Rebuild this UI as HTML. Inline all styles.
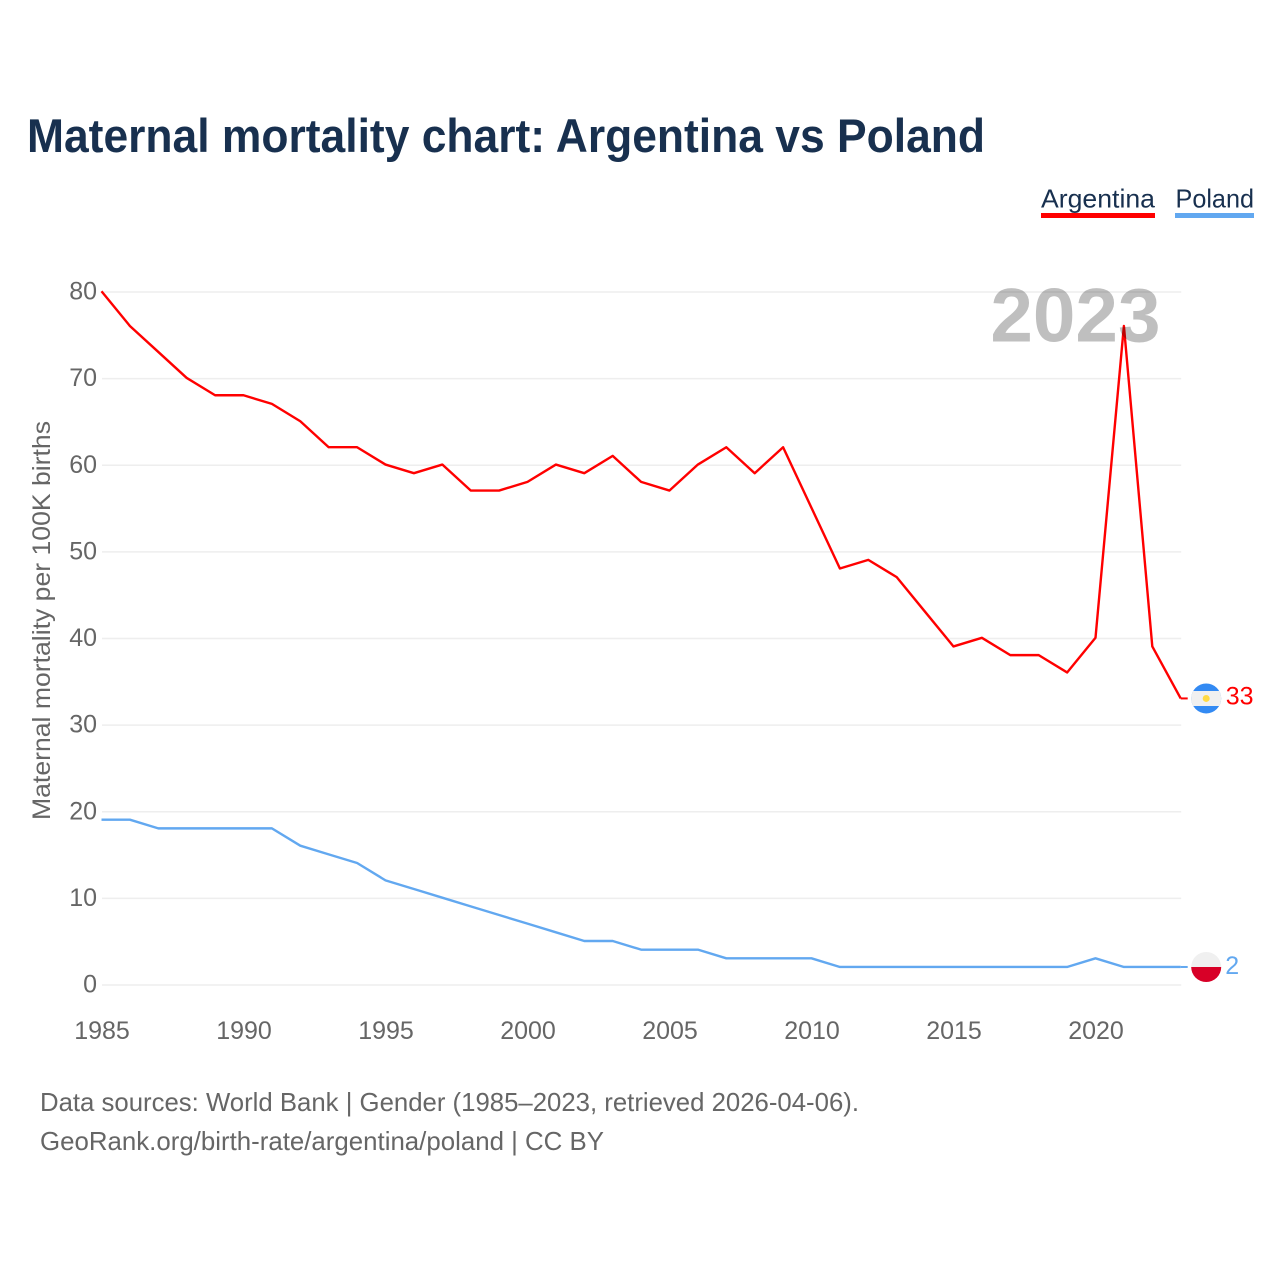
<!DOCTYPE html>
<html lang="en">
<head>
<meta charset="utf-8">
<title>Maternal mortality chart: Argentina vs Poland</title>
<style>
html,body{margin:0;padding:0;background:#fff;}
svg{display:block;font-family:"Liberation Sans",sans-serif;}
.tick{font-size:25px;fill:#666;}
.foot{font-size:26px;fill:#666;}
.leg{font-size:26px;fill:#18304f;}
</style>
</head>
<body>
<svg id="chart" width="1280" height="1280" viewBox="0 0 1280 1280" xmlns="http://www.w3.org/2000/svg">
  <rect width="1280" height="1280" fill="#fff"/>
  <text x="27" y="152" font-size="47" font-weight="700" fill="#18304f" textLength="958" lengthAdjust="spacingAndGlyphs">Maternal mortality chart: Argentina vs Poland</text>

  <g>
    <text class="leg" x="1041" y="207.5" textLength="114" lengthAdjust="spacingAndGlyphs">Argentina</text>
    <rect x="1041" y="213" width="114" height="5" fill="#ff0000"/>
  </g>
  <g>
    <text class="leg" x="1175.5" y="207.5" textLength="78.5" lengthAdjust="spacingAndGlyphs">Poland</text>
    <rect x="1175" y="213" width="79" height="5" fill="#62a8f0"/>
  </g>

  <g id="grid"></g>
  <g id="yticks"></g>
  <g id="xticks"></g>
  <text transform="translate(50,620.5) rotate(-90)" text-anchor="middle" font-size="25" fill="#666" textLength="399" lengthAdjust="spacingAndGlyphs">Maternal mortality per 100K births</text>

  <g id="series" transform="translate(-0.5,-0.7)"></g>

  <text id="year-label" x="1160.5" y="341.5" text-anchor="end" font-size="76.5" font-weight="700" fill="#000" fill-opacity="0.25">2023</text>

  <g id="ends" transform="translate(-0.5,-0.7)"></g>

  <text class="foot" x="40" y="1111" textLength="819" lengthAdjust="spacingAndGlyphs">Data sources: World Bank | Gender (1985–2023, retrieved 2026-04-06).</text>
  <text class="foot" x="40" y="1150" textLength="564" lengthAdjust="spacingAndGlyphs">GeoRank.org/birth-rate/argentina/poland | CC BY</text>
</svg>
<script>
const years = [1985,1986,1987,1988,1989,1990,1991,1992,1993,1994,1995,1996,1997,1998,1999,2000,2001,2002,2003,2004,2005,2006,2007,2008,2009,2010,2011,2012,2013,2014,2015,2016,2017,2018,2019,2020,2021,2022,2023];
const argentina = [80,76,73,70,68,68,67,65,62,62,60,59,60,57,57,58,60,59,61,58,57,60,62,59,62,55,48,49,47,43,39,40,38,38,36,40,76,39,33];
const poland = [19,19,18,18,18,18,18,16,15,14,12,11,10,9,8,7,6,5,5,4,4,4,3,3,3,3,2,2,2,2,2,2,2,2,2,3,2,2,2];
const yTickValues = [0,10,20,30,40,50,60,70,80];
const xTickValues = [1985,1990,1995,2000,2005,2010,2015,2020];

const NS = 'http://www.w3.org/2000/svg';
const PLOT = {left:102, right:1181.2, top:292, bottom:985};
const xScale = function (v) {
  return PLOT.left + (v - years[0]) / (years[years.length - 1] - years[0]) * (PLOT.right - PLOT.left);
};
const yScale = function (v) {
  return PLOT.bottom - v / 80 * (PLOT.bottom - PLOT.top);
};
function make(tag, attrs, parent, text) {
  const el = document.createElementNS(NS, tag);
  Object.keys(attrs).forEach(function (k) { el.setAttribute(k, attrs[k]); });
  if (text !== undefined) el.textContent = text;
  parent.appendChild(el);
  return el;
}
const grid = document.getElementById('grid');
const yticks = document.getElementById('yticks');
const xticks = document.getElementById('xticks');
const series = document.getElementById('series');
const ends = document.getElementById('ends');

yTickValues.forEach(function (v) {
  const line = make('line', {x1:PLOT.left, x2:PLOT.right, y1:yScale(v), y2:yScale(v), stroke:'#eeeeee', 'stroke-width':1.5}, grid);
  
  
  const label = make('text', {class:'tick', x:97, y:yScale(v) + 7.5, 'text-anchor':'end'}, yticks, String(v));
  
  
});
xTickValues.forEach(function (v) {
  const label = make('text', {class:'tick', x:xScale(v), y:1039, 'text-anchor':'middle'}, xticks, String(v));
  
  
});
function linePath(values) {
  return values.map(function (v, i) {
    return (i ? 'L' : 'M') + xScale(years[i]).toFixed(2) + ' ' + yScale(v).toFixed(2);
  }).join(' ');
}
const polandLine = make('path', {d:linePath(poland), fill:'none', stroke:'#62a8f0', 'stroke-width':2.4, 'stroke-linejoin':'round'}, series);


const argentinaLine = make('path', {d:linePath(argentina), fill:'none', stroke:'#ff0000', 'stroke-width':2.4, 'stroke-linejoin':'round'}, series);



/* end-of-line markers follow the last values */
const lastA = argentina[argentina.length - 1];
const lastP = poland[poland.length - 1];
const endX = xScale(years[years.length - 1]);
const flagX = endX + 25.5;

const leaderA = make('line', {x1:endX, x2:endX + 7, y1:yScale(lastA), y2:yScale(lastA), stroke:'#ff0000', 'stroke-width':2}, ends);


const leaderP = make('line', {x1:endX, x2:endX + 7, y1:yScale(lastP), y2:yScale(lastP), stroke:'#62a8f0', 'stroke-width':2}, ends);



const ay = yScale(lastA);
const flagA = make('g', {}, ends);


make('circle', {cx:flagX, cy:ay, r:15, fill:'#338af3'}, flagA);
make('path', {d:'M' + (flagX - 13) + ' ' + (ay - 7.5) + 'H' + (flagX + 13) + 'A15 15 0 0 1 ' + (flagX + 13) + ' ' + (ay + 7.5) + 'H' + (flagX - 13) + 'A15 15 0 0 1 ' + (flagX - 13) + ' ' + (ay - 7.5) + 'Z', fill:'#f0f0f0'}, flagA);
make('circle', {cx:flagX, cy:ay, r:3.5, fill:'#ffda44'}, flagA);

const py = yScale(lastP);
const flagP = make('g', {}, ends);


make('circle', {cx:flagX, cy:py, r:15, fill:'#f0f0f0'}, flagP);
make('path', {d:'M' + (flagX - 15) + ' ' + py + 'H' + (flagX + 15) + 'A15 15 0 0 1 ' + (flagX - 15) + ' ' + py + 'Z', fill:'#d80027'}, flagP);

const valA = make('text', {x:endX + 45, y:ay + 6, 'font-size':25, fill:'#ff0000'}, ends, String(lastA));


const valP = make('text', {x:endX + 44.5, y:py + 7, 'font-size':25, fill:'#62a8f0'}, ends, String(lastP));


</script>
</body>
</html>
